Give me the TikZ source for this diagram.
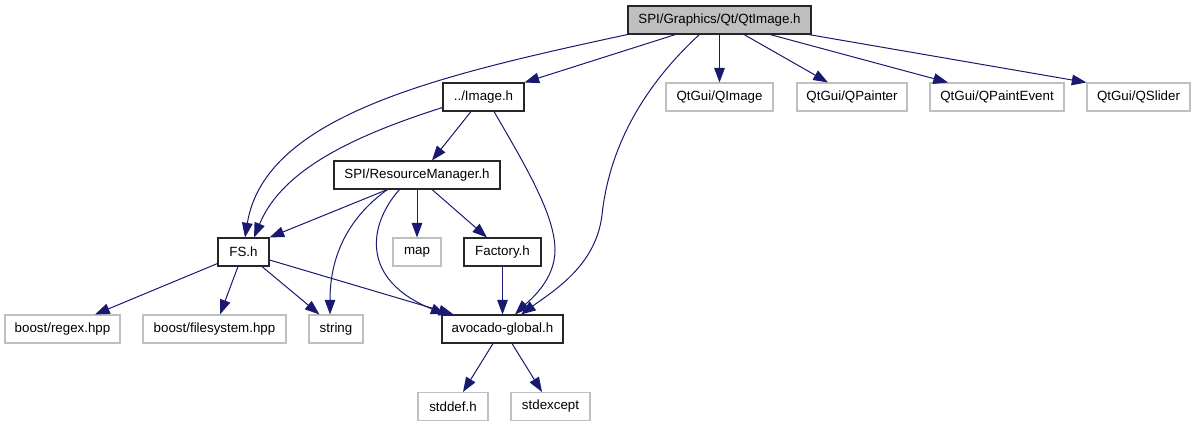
\documentclass[tikz,border=0pt]{standalone}
\usepackage{fontspec}
\setmainfont{Liberation Sans}
\usetikzlibrary{arrows.meta,calc}
\definecolor{edgeblue}{HTML}{191970}
\definecolor{greyline}{HTML}{BFBFBF}
\definecolor{rootfill}{HTML}{BFBFBF}
\begin{document}
\begin{tikzpicture}[x=0.75pt,y=-0.75pt,
  every node/.style={font=\fontsize{10}{12}\selectfont, inner sep=0pt, minimum height=21pt, rectangle, anchor=center},
  inc/.style={draw=black!85, line width=0.8pt, fill=white, minimum width=#1*0.75pt},
  ext/.style={draw=greyline, line width=0.8pt, fill=white, minimum width=#1*0.75pt},
  root/.style={draw=black!85, line width=0.8pt, fill=rootfill, minimum width=#1*0.75pt},
  dep/.style={draw=edgeblue, line width=0.75pt, -{Triangle[length=11pt,width=8pt]}}]
\useasboundingbox[fill=white] (0,0) rectangle (1195,427);
% nodes
\node[root=183] (qt) at (719.5,20) {SPI/Graphics/Qt/QtImage.h};
\node[inc=81] (img) at (483.5,97) {../Image.h};
\node[ext=107] (qimage) at (719.5,97) {QtGui/QImage};
\node[ext=110] (qpainter) at (852,97) {QtGui/QPainter};
\node[ext=134] (qpe) at (997,97) {QtGui/QPaintEvent};
\node[ext=103] (qslider) at (1138.5,97) {QtGui/QSlider};
\node[inc=166] (rm) at (417,175) {SPI/ResourceManager.h};
\node[inc=51] (fs) at (243.5,252) {FS.h};
\node[ext=48] (map) at (417,252) {map};
\node[inc=77] (factory) at (502.5,252) {Factory.h};
\node[ext=115] (regex) at (62.5,329) {boost/regex.hpp};
\node[ext=143] (bfs) at (214.5,329) {boost/filesystem.hpp};
\node[ext=54] (string) at (336,329) {string};
\node[inc=121] (avo) at (502.5,329) {avocado-global.h};
\node[ext=70] (stddef) at (453,406.5) {stddef.h};
\node[ext=79] (stdexcept) at (550.5,406.5) {stdexcept};
% edges from QtImage.h
\draw[dep] (qt.south west) .. controls (440,75) and (265,115) .. ($(fs.north)+(1.5,0)$);
\draw[dep] ($(qt.south west)+(48,0)$) -- (img.north east);
\draw[dep] ($(qt.south west)+(72,0)$) .. controls (650,80) and (610,140) .. (602,215) .. controls (596,265) and (555,290) .. ($(avo.north)+(18.5,0)$);
\draw[dep] (qt.south) -- (qimage.north);
\draw[dep] ($(qt.south)+(24.5,0)$) -- ($(qpainter.north)+(-24,0)$);
\draw[dep] ($(qt.south)+(50.5,0)$) -- ($(qpe.north)+(-49,0)$);
\draw[dep] ($(qt.south east)+(-3,0)$) -- (qslider.north west);
% edges from ../Image.h
\draw[dep] ($(img.south west)+(0,-4)$) .. controls (340,140) and (280,175) .. ($(fs.north)+(10.5,0)$);
\draw[dep] ($(img.south)+(-12.5,0)$) -- ($(rm.north)+(15,0)$);
\draw[dep] ($(img.south)+(10.5,0)$) .. controls (525,165) and (555,215) .. (555,250) .. controls (555,280) and (530,300) .. ($(avo.north)+(12.5,0)$);
% edges from ResourceManager
\draw[dep] ($(rm.south west)+(54,0)$) -- (fs.north east);
\draw[dep] ($(rm.south west)+(54,0)$) .. controls (345,220) and (330,260) .. ($(string.north)+(-6,0)$);
\draw[dep] ($(rm.south west)+(66,0)$) .. controls (368,225) and (360,280) .. ($(avo.north west)+(4,0)$);
\draw[dep] (rm.south) -- (map.north);
\draw[dep] ($(rm.south)+(15,0)$) -- ($(factory.north)+(-15.5,0)$);
% edges from FS.h
\draw[dep] ($(fs.south west)+(0,-3)$) -- ($(regex.north)+(32.5,0)$);
\draw[dep] ($(fs.south)+(-5.5,0)$) -- ($(bfs.north)+(5.5,0)$);
\draw[dep] ($(fs.south)+(18.5,0)$) -- ($(string.north west)+(11,0)$);
\draw[dep] ($(fs.east)+(0,8)$) -- ($(avo.north west)+(12,0)$);
% others
\draw[dep] (factory.south) -- (avo.north);
\draw[dep] ($(avo.south)+(-9.5,0)$) -- ($(stddef.north)+(10,0)$);
\draw[dep] ($(avo.south)+(9.5,0)$) -- ($(stdexcept.north)+(-8.5,0)$);
\end{tikzpicture}
\end{document}
